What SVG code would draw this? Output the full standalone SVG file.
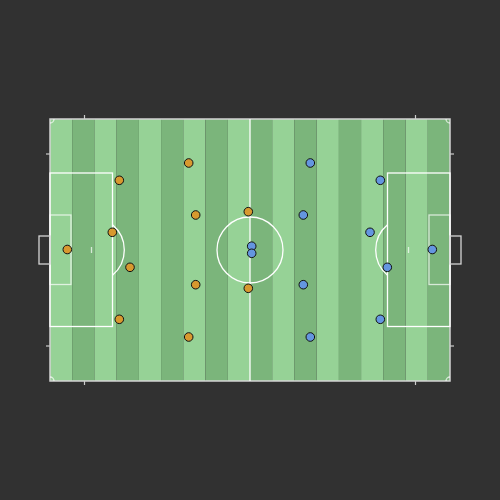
<svg xmlns="http://www.w3.org/2000/svg" width="500" height="500" viewBox="0 0 500 500">
<style>
.l{fill:#96d296}.d{fill:#7bb57b}
.ln{fill:none;stroke:#ffffff;stroke-width:1.3}
.ln2{fill:none;stroke:#ffffff;stroke-opacity:0.7;stroke-width:1.3}
.tk{stroke:#cccccc;stroke-width:1.2}
.h{fill:#d8992f;stroke:#111;stroke-width:1}
.a{fill:#6496e0;stroke:#111;stroke-width:1}
</style>
<rect width="500" height="500" fill="#313131"/>
<g id="pitch">
<rect x="50" y="119" width="22.2" height="262" class="l"/>
<rect x="72.2" y="119" width="22.2" height="262" class="d"/>
<rect x="94.4" y="119" width="22.2" height="262" class="l"/>
<rect x="116.7" y="119" width="22.2" height="262" class="d"/>
<rect x="138.9" y="119" width="22.2" height="262" class="l"/>
<rect x="161.1" y="119" width="22.2" height="262" class="d"/>
<rect x="183.3" y="119" width="22.2" height="262" class="l"/>
<rect x="205.6" y="119" width="22.2" height="262" class="d"/>
<rect x="227.8" y="119" width="22.2" height="262" class="l"/>
<rect x="250" y="119" width="22.2" height="262" class="d"/>
<rect x="272.2" y="119" width="22.2" height="262" class="l"/>
<rect x="294.4" y="119" width="22.2" height="262" class="d"/>
<rect x="316.7" y="119" width="22.2" height="262" class="l"/>
<rect x="338.9" y="119" width="22.2" height="262" class="d"/>
<rect x="361.1" y="119" width="22.2" height="262" class="l"/>
<rect x="383.3" y="119" width="22.2" height="262" class="d"/>
<rect x="405.6" y="119" width="22.2" height="262" class="l"/>
<rect x="427.8" y="119" width="22.2" height="262" class="d"/>
<rect x="50" y="119" width="400" height="262" fill="none" stroke="#d4d4d4" stroke-width="1.5"/>
<line x1="250" y1="119" x2="250" y2="381" class="ln"/>
<circle cx="250" cy="250" r="33" class="ln"/>
<rect x="50" y="173" width="62.5" height="153.5" class="ln"/>
<rect x="387.5" y="173" width="62.5" height="153.5" class="ln"/>
<rect x="50" y="215" width="21" height="69.5" class="ln2"/>
<rect x="429" y="215" width="21" height="69.5" class="ln2"/>
<path d="M112.5 224.8 A32.8 32.8 0 0 1 112.5 275.2" class="ln"/>
<path d="M387.5 224.8 A32.8 32.8 0 0 0 387.5 275.2" class="ln"/>
<line x1="91.5" y1="247" x2="91.5" y2="253" class="ln2"/>
<line x1="408.5" y1="247" x2="408.5" y2="253" class="ln2"/>
<path d="M50 123 A4 4 0 0 0 54 119" class="ln2"/>
<path d="M446 119 A4 4 0 0 0 450 123" class="ln2"/>
<path d="M50 377 A4 4 0 0 1 54 381" class="ln2"/>
<path d="M446 381 A4 4 0 0 1 450 377" class="ln2"/>
<rect x="39" y="236" width="11" height="28" fill="none" stroke="#d4d4d4" stroke-width="1.3"/>
<rect x="450" y="236" width="11" height="28" fill="none" stroke="#d4d4d4" stroke-width="1.3"/>
<line x1="84.5" y1="115" x2="84.5" y2="119" class="tk"/>
<line x1="415.5" y1="115" x2="415.5" y2="119" class="tk"/>
<line x1="84.5" y1="381" x2="84.5" y2="385" class="tk"/>
<line x1="415.5" y1="381" x2="415.5" y2="385" class="tk"/>
<line x1="46" y1="154" x2="50" y2="154" class="tk"/>
<line x1="46" y1="346" x2="50" y2="346" class="tk"/>
<line x1="450" y1="154" x2="454" y2="154" class="tk"/>
<line x1="450" y1="346" x2="454" y2="346" class="tk"/>
</g>
<g id="home">
<circle cx="67.3" cy="249.5" r="4.3" class="h"/>
<circle cx="119.3" cy="180.3" r="4.3" class="h"/>
<circle cx="112.3" cy="232.3" r="4.3" class="h"/>
<circle cx="130" cy="267.3" r="4.3" class="h"/>
<circle cx="119.3" cy="319.3" r="4.3" class="h"/>
<circle cx="188.7" cy="163" r="4.3" class="h"/>
<circle cx="195.7" cy="215" r="4.3" class="h"/>
<circle cx="195.7" cy="284.7" r="4.3" class="h"/>
<circle cx="188.7" cy="337" r="4.3" class="h"/>
<circle cx="248.3" cy="211.7" r="4.3" class="h"/>
<circle cx="248.3" cy="288.3" r="4.3" class="h"/>
</g>
<g id="away">
<circle cx="432.3" cy="249.5" r="4.3" class="a"/>
<circle cx="380.3" cy="180.3" r="4.3" class="a"/>
<circle cx="370" cy="232.3" r="4.3" class="a"/>
<circle cx="387.3" cy="267.3" r="4.3" class="a"/>
<circle cx="380.3" cy="319.3" r="4.3" class="a"/>
<circle cx="310.3" cy="163" r="4.3" class="a"/>
<circle cx="303.3" cy="215" r="4.3" class="a"/>
<circle cx="303.3" cy="284.7" r="4.3" class="a"/>
<circle cx="310.3" cy="337" r="4.3" class="a"/>
<circle cx="251.7" cy="246.2" r="4.3" class="a"/>
<circle cx="251.7" cy="253.3" r="4.3" class="a"/>
</g>
</svg>
